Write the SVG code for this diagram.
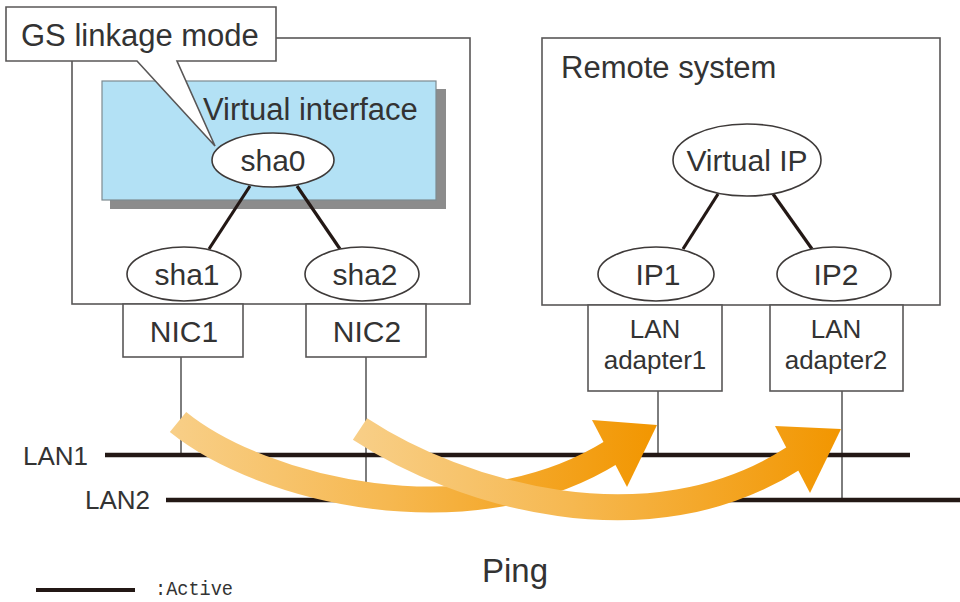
<svg xmlns="http://www.w3.org/2000/svg" width="960" height="602" viewBox="0 0 960 602">
<style>
text{font-family:"Liberation Sans",Arial,sans-serif;fill:#333;}
.box{fill:#fff;stroke:#595757;stroke-width:1.6;}
.sys{fill:none;stroke:#595757;stroke-width:1.6;}
.ell{fill:#fff;stroke:#3e3a39;stroke-width:1.6;}
.link{stroke:#231815;stroke-width:3.2;fill:none;}
.drop{stroke:#7d7d7d;stroke-width:2;fill:none;}
.lan{stroke:#231815;stroke-width:4.5;fill:none;}
.lbl{font-size:30px;text-anchor:middle;}
.small{font-size:26px;text-anchor:middle;}
</style>
<defs>
<linearGradient id="g1" gradientUnits="userSpaceOnUse" x1="170" y1="0" x2="657" y2="0">
<stop offset="0" stop-color="#f8cf88"/><stop offset="0.45" stop-color="#f6b850"/><stop offset="1" stop-color="#f29600"/>
</linearGradient>
<linearGradient id="g2" gradientUnits="userSpaceOnUse" x1="353" y1="0" x2="841" y2="0">
<stop offset="0" stop-color="#f8cf88"/><stop offset="0.45" stop-color="#f6b850"/><stop offset="1" stop-color="#f29600"/>
</linearGradient>
</defs>

<g id="local-system">
<rect class="sys" x="72" y="38" width="398" height="266"/>
</g>
<g id="remote-system">
<rect class="sys" x="542" y="38" width="398" height="267"/>
<text x="561" y="78" style="font-size:31px">Remote system</text>
</g>
<g id="virtual-interface">
<rect x="110" y="89" width="336" height="120" fill="#8c8c8c"/>
<rect x="102" y="81" width="334" height="119" fill="#b3e1f5" stroke="#7d8a90" stroke-width="1.2"/>
<text x="203" y="120" style="font-size:31px">Virtual interface</text>
</g>

<g id="connectors">
<line class="link" x1="250" y1="186" x2="209" y2="249"/>
<line class="link" x1="297" y1="186" x2="340" y2="249"/>
<line class="link" x1="718" y1="194" x2="683" y2="249"/>
<line class="link" x1="773" y1="194" x2="812" y2="249"/>
<line class="drop" x1="181" y1="357" x2="181" y2="455"/>
<line class="drop" x1="366" y1="357" x2="366" y2="500"/>
<line class="drop" x1="658" y1="391" x2="658" y2="455"/>
<line class="drop" x1="842" y1="391" x2="842" y2="500"/>
<line class="lan" x1="105" y1="455" x2="910" y2="455"/>
<line class="lan" x1="166" y1="500" x2="960" y2="500"/>
</g>

<g id="sha0">
<ellipse class="ell" cx="273" cy="160" rx="61" ry="27"/>
<text class="lbl" x="273" y="171">sha0</text>
</g>
<g id="sha1">
<ellipse class="ell" cx="184" cy="274" rx="57" ry="27"/>
<text class="lbl" x="187" y="285">sha1</text>
</g>
<g id="sha2">
<ellipse class="ell" cx="362" cy="274" rx="57" ry="27"/>
<text class="lbl" x="365" y="285">sha2</text>
</g>
<g id="virtual-ip">
<ellipse class="ell" cx="747" cy="160" rx="74" ry="36"/>
<text class="lbl" x="747" y="171">Virtual IP</text>
</g>
<g id="ip1">
<ellipse class="ell" cx="656" cy="274" rx="58" ry="27"/>
<text class="lbl" x="658" y="285">IP1</text>
</g>
<g id="ip2">
<ellipse class="ell" cx="834" cy="274" rx="57" ry="27"/>
<text class="lbl" x="836" y="285">IP2</text>
</g>
<g id="nic1">
<rect class="box" x="123" y="304" width="120" height="53"/>
<text class="lbl" x="184" y="342">NIC1</text>
</g>
<g id="nic2">
<rect class="box" x="306" y="304" width="120" height="53"/>
<text class="lbl" x="367" y="342">NIC2</text>
</g>
<g id="lan-adapter1">
<rect class="box" x="588" y="305" width="134" height="86"/>
<text class="small" x="655" y="338">LAN</text>
<text class="small" x="655" y="369">adapter1</text>
</g>
<g id="lan-adapter2">
<rect class="box" x="770" y="305" width="133" height="86"/>
<text class="small" x="836" y="338">LAN</text>
<text class="small" x="836" y="369">adapter2</text>
</g>

<g id="callout">
<path d="M6,7 H276 V61 H177 L215,146 L137,61 H6 Z" fill="#fff" stroke="#595757" stroke-width="1.6" stroke-linejoin="miter"/>
<text x="21" y="46" style="font-size:31px">GS linkage mode</text>
</g>

<g id="lan-labels">
<text x="23" y="465" style="font-size:26px">LAN1</text>
<text x="85" y="509" style="font-size:26px">LAN2</text>
</g>

<g id="ping-arrows">
<path d="M178,422 C262,490 469,541 612,452" stroke="url(#g1)" stroke-width="26" fill="none"/>
<polygon points="592,420 657,425 627,487" fill="url(#g1)"/>
<path d="M360,429 C459,494 648,552 794,458" stroke="url(#g2)" stroke-width="26" fill="none"/>
<polygon points="775,426 841,429 810,493" fill="url(#g2)"/>
<text x="482" y="582" style="font-size:33px">Ping</text>
</g>

<g id="legend">
<line x1="36" y1="590" x2="135" y2="590" stroke="#231815" stroke-width="4"/>
<text x="155" y="595" style="font-family:'Liberation Mono',monospace;font-size:20px" textLength="78" lengthAdjust="spacingAndGlyphs">:Active</text>
</g>
</svg>
